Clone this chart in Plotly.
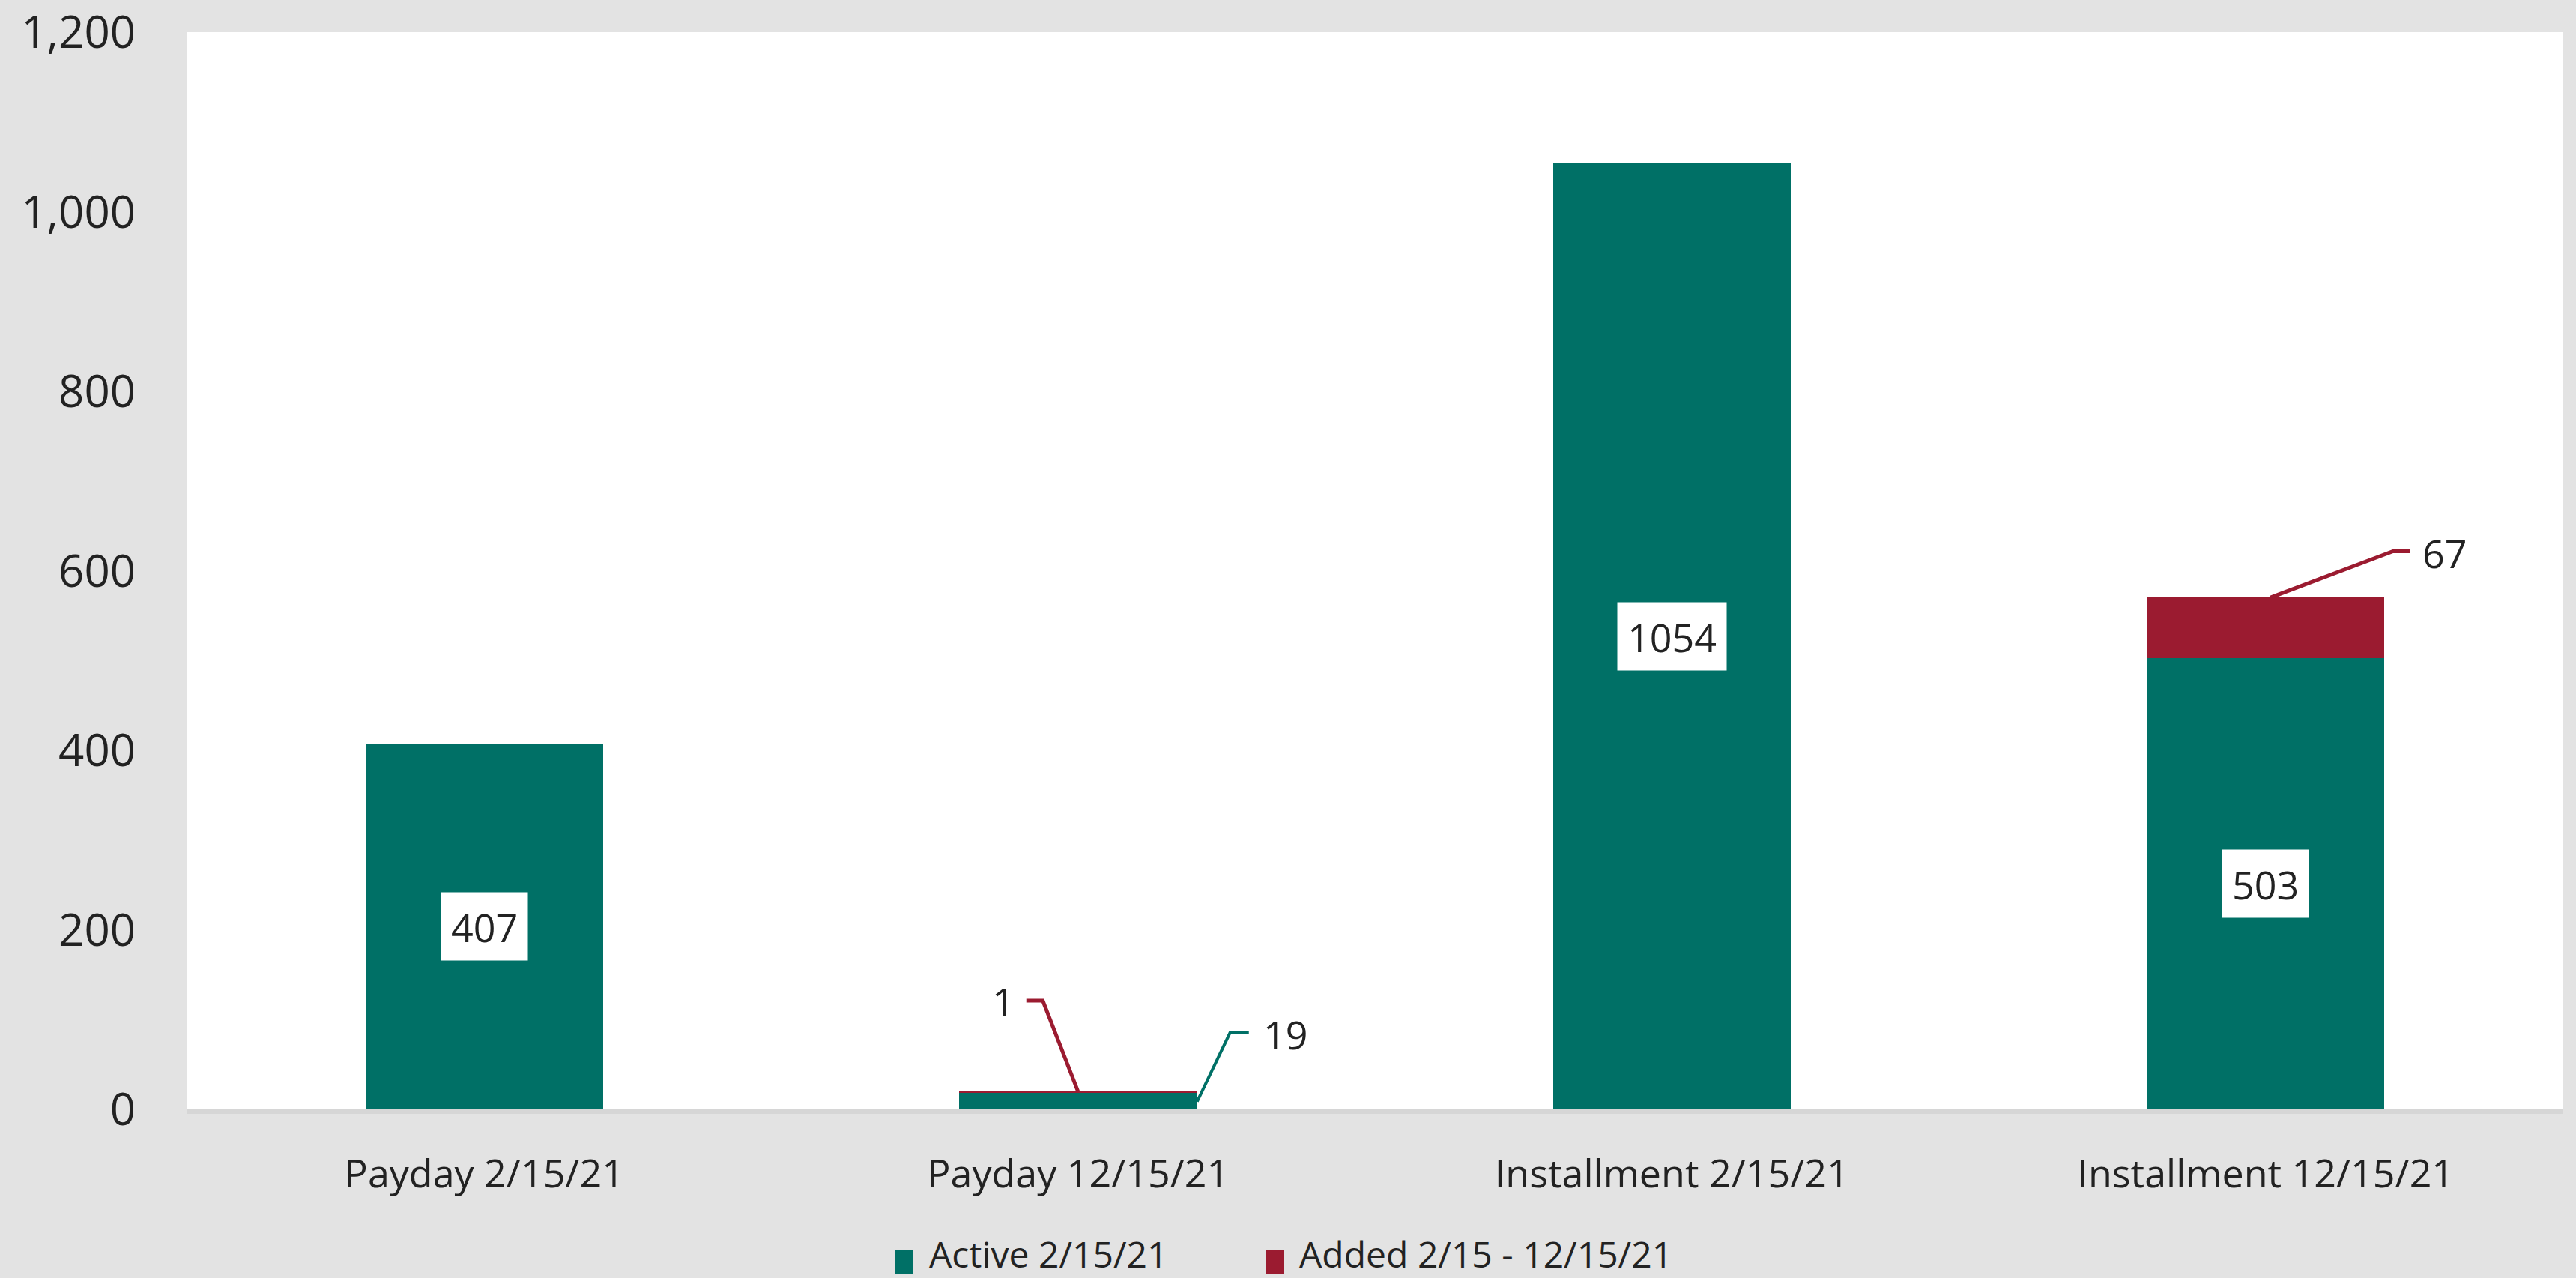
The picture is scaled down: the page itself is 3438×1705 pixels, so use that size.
import plotly.graph_objects as go

# ---- data -------------------------------------------------------------
categories = ["Payday 2/15/21", "Payday 12/15/21", "Installment 2/15/21", "Installment 12/15/21"]
active = [407, 19, 1054, 503]
added = [None, 1, None, 67]
series_names = ["Active 2/15/21", "Added 2/15 - 12/15/21"]
y_ticks = [0, 200, 400, 600, 800, 1000, 1200]

# ---- style ------------------------------------------------------------
TEAL = "#007066"
RED = "#9B1B30"
BG = "#E3E3E3"
TEXT = "#222222"
FONT = "Open Sans"

W, H = 3438, 1705
ML, MR, MT, MB = 250, 18, 43, 225
PLOT_W = W - ML - MR
PLOT_H = H - MT - MB


def px_to_paper(px, py):
    """Convert page pixel position into paper coordinates."""
    return (px - ML) / PLOT_W, (H - MB - py) / PLOT_H


fig = go.Figure()
fig.add_bar(x=categories, y=active, name=series_names[0],
            marker=dict(color=TEAL, line_width=0), showlegend=False)
fig.add_bar(x=categories, y=added, name=series_names[1],
            marker=dict(color=RED, line_width=0), showlegend=False)

annotations = []
shapes = []

# boxed value labels centred inside the tall teal segments
for cat, v in zip(categories, active):
    if v >= 100:
        annotations.append(dict(
            x=cat, y=v / 2, xref="x", yref="y", text=str(v), showarrow=False,
            bgcolor="white", borderpad=13, height=64,
            font=dict(family=FONT, size=52, color=TEXT)))

# callout labels for small segments: (series values, base values, index, colour,
# anchor fraction, leader path in pixel offsets, text offset, line width)
callouts = [
    (added, active, 1, RED, 1.0, [(0, 0), (-47, 121), (-69, 121)], (-100, 121), 5),
    (active, None, 1, TEAL, 0.5, [(159, -1), (203, 91), (228, 91)], (277, 89), 4),
    (added, active, 3, RED, 1.0, [(6, 0), (170, 62), (193, 62)], (239, 60), 5),
]
for vals, base, i, color, frac, pts, (tx, ty), lw in callouts:
    y0 = (base[i] if base else 0) + vals[i] * frac
    path = "M " + " L ".join(f"{x},{y}" for x, y in pts)
    shapes.append(dict(type="path", xref="x", yref="y",
                       xsizemode="pixel", ysizemode="pixel",
                       xanchor=categories[i], yanchor=y0, path=path,
                       line=dict(color=color, width=lw)))
    annotations.append(dict(
        x=categories[i], y=y0, xref="x", yref="y", text=str(vals[i]),
        showarrow=False, xshift=tx, yshift=ty, xanchor="center", yanchor="middle",
        font=dict(family=FONT, size=52, color=TEXT)))

# legend drawn below the axis
legend_items = [(series_names[0], TEAL, 1195), (series_names[1], RED, 1689)]
for name, color, sx in legend_items:
    x0, y0 = px_to_paper(sx, 1699)
    x1, y1 = px_to_paper(sx + 24, 1667)
    shapes.append(dict(type="rect", xref="paper", yref="paper",
                       x0=x0, x1=x1, y0=y0, y1=y1,
                       fillcolor=color, line_width=0))
    tx, ty = px_to_paper(sx + 44, 1672)
    annotations.append(dict(
        x=tx, y=ty, xref="paper", yref="paper", text=name, showarrow=False,
        xanchor="left", yanchor="middle", borderpad=0,
        font=dict(family=FONT, size=48, color=TEXT)))

fig.update_layout(
    width=W, height=H, autosize=False,
    margin=dict(l=ML, r=MR, t=MT, b=MB, pad=0),
    paper_bgcolor=BG, plot_bgcolor="white",
    barmode="stack", bargap=0.6,
    showlegend=False,
    font=dict(family=FONT, color=TEXT),
    annotations=annotations, shapes=shapes,
)
fig.update_xaxes(
    showgrid=False, zeroline=False, showline=True, linecolor="#D6D6D6", linewidth=6,
    ticks="", ticklabelstandoff=36, automargin=False,
    tickfont=dict(family=FONT, size=52, color=TEXT),
)
fig.update_yaxes(
    range=[0, 1200], tickvals=y_ticks, tickformat=",",
    showgrid=False, zeroline=False, showline=False, ticks="",
    ticklabelstandoff=68, automargin=False, ticklabeloverflow="allow",
    tickfont=dict(family=FONT, size=60, color=TEXT),
)

fig.write_html("out.html")
